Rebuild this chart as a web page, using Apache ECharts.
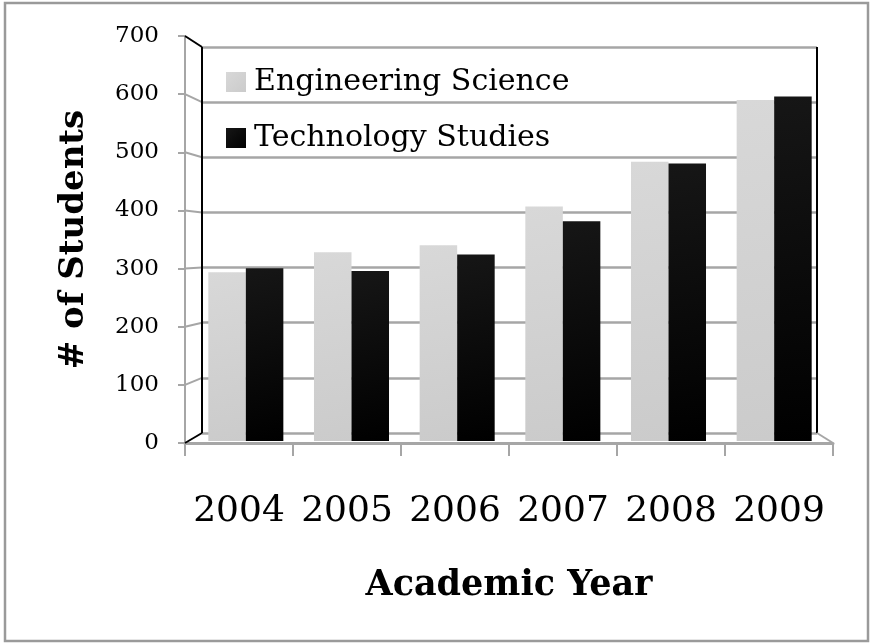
<!DOCTYPE html>
<html>
<head>
<meta charset="utf-8">
<script src="https://cdn.jsdelivr.net/npm/echarts@6/dist/echarts.min.js"></script>
<style>
html,body{margin:0;padding:0;background:#fff;}
#c{width:871px;height:644px;}
</style>
</head>
<body>
<div id="c"></div>
<script>
const years = ['2004','2005','2006','2007','2008','2009'];
const engineeringScience = [295, 330, 342, 410, 488, 596];
const technologyStudies = [302, 297, 326, 384, 485, 602];
const yTicks = [0, 100, 200, 300, 400, 500, 600, 700];

const W = 871, H = 644;
// front plane, back wall, bar plane (pixel layout)
const FRONT = {l:185, r:833, t:36, b:443};
const BACK = {l:202, r:817, t:47, b:433};
const BARS = {l:193, r:827, t:40.5, b:441};

const serif = 'DejaVu Serif';
const chart = echarts.init(document.getElementById('c'), null, {renderer:'canvas'});

const option = {
  backgroundColor:'#fff',
  animation:false,
  color:['#d0d0d0', '#000000'],
  grid:[
    {left:BACK.l, right:W-BACK.r, top:BACK.t, bottom:H-BACK.b},
    {left:FRONT.l, right:W-FRONT.r, top:FRONT.t, bottom:H-FRONT.b},
    {left:BARS.l, right:W-BARS.r, top:BARS.t, bottom:H-BARS.b}
  ],
  legend:{
    orient:'vertical', left:226, top:64, padding:0,
    itemWidth:20, itemHeight:20, itemGap:20,
    icon:'rect',
    textStyle:{fontFamily:serif, fontSize:30, color:'#000', lineHeight:36, padding:[0,0,0,3]},
    data:['Engineering Science','Technology Studies']
  },
  xAxis:[
    {gridIndex:0, type:'category', data:years, show:false},
    {gridIndex:1, type:'category', data:years, boundaryGap:true,
     axisLine:{lineStyle:{color:'#a6a6a6', width:3}},
     axisTick:{show:true, length:13, lineStyle:{color:'#a6a6a6', width:2}},
     axisLabel:{interval:0, fontFamily:serif, fontSize:36, color:'#000', margin:51},
     name:'Academic Year', nameLocation:'middle', nameGap:125,
     nameTextStyle:{fontFamily:serif, fontSize:35, fontWeight:'bold', color:'#000'}},
    {gridIndex:2, type:'category', data:years, show:false}
  ],
  yAxis:[
    {gridIndex:0, type:'value', min:0, max:700, interval:100,
     axisLine:{show:false}, axisTick:{show:false}, axisLabel:{show:false},
     splitLine:{show:true, lineStyle:{color:'#a6a6a6', width:2.5}}},
    {gridIndex:1, type:'value', min:0, max:700, interval:100,
     axisLine:{show:true, lineStyle:{color:'#a6a6a6', width:2}},
     axisTick:{show:true, length:7, lineStyle:{color:'#a6a6a6', width:2}},
     axisLabel:{fontFamily:serif, fontSize:23, color:'#000', margin:26},
     splitLine:{show:false},
     name:'# of Students', nameLocation:'middle', nameGap:94, nameRotate:90,
     nameTextStyle:{fontFamily:serif, fontSize:34, fontWeight:'bold', color:'#000'}},
    {gridIndex:2, type:'value', min:0, max:700, interval:100, show:false, splitLine:{show:false}}
  ],
  series:[
    {name:'Engineering Science', type:'bar', xAxisIndex:2, yAxisIndex:2,
     data:engineeringScience, barGap:'0%', barCategoryGap:'29%',
     itemStyle:{color:new echarts.graphic.LinearGradient(0,0,1,1,[
       {offset:0,color:'#d8d8d8'},{offset:1,color:'#cbcbcb'}])}},
    {name:'Technology Studies', type:'bar', xAxisIndex:2, yAxisIndex:2,
     data:technologyStudies, barGap:'0%', barCategoryGap:'29%',
     itemStyle:{color:new echarts.graphic.LinearGradient(0,0,1,1,[
       {offset:0,color:'#161616'},{offset:1,color:'#000000'}])}}
  ]
};
chart.setOption(option);

// 3D-frame decorations computed from the library's own scales
const els = [];
yTicks.forEach(v => {
  const yf = chart.convertToPixel({yAxisIndex:1}, v);
  const yb = chart.convertToPixel({yAxisIndex:0}, v);
  const edge = (v === 0 || v === 700);
  els.push({type:'line', shape:{x1:FRONT.l, y1:yf, x2:BACK.l, y2:yb},
    style:{stroke: edge ? '#000' : '#a6a6a6', lineWidth:2}, z:10});
});
const yb0 = chart.convertToPixel({yAxisIndex:0}, 0);
const yb7 = chart.convertToPixel({yAxisIndex:0}, 700);
const yf0 = chart.convertToPixel({yAxisIndex:1}, 0);
els.push({type:'line', shape:{x1:BACK.l, y1:yb7, x2:BACK.l, y2:yb0}, style:{stroke:'#000', lineWidth:2}, z:10});
els.push({type:'line', shape:{x1:BACK.r, y1:yb7, x2:BACK.r, y2:yb0}, style:{stroke:'#000', lineWidth:2}, z:1});
els.push({type:'line', shape:{x1:BACK.r, y1:yb0, x2:FRONT.r, y2:yf0}, style:{stroke:'#a6a6a6', lineWidth:2}, z:10});
els.push({type:'rect', shape:{x:5, y:3, width:863, height:638}, style:{fill:null, stroke:'#9a9a9a', lineWidth:2.5}, z:0});
chart.setOption({graphic:{elements:els}});
</script>
</body>
</html>
